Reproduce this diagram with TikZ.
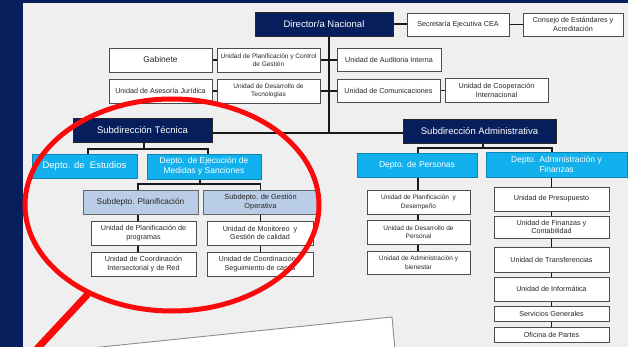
\documentclass[tikz,border=0pt]{standalone}
\usepackage{fontspec}
\setmainfont{Liberation Sans}
\usetikzlibrary{backgrounds}
\definecolor{navy}{RGB}{6,30,92}
\definecolor{bgray}{RGB}{239,239,240}
\definecolor{cyanb}{RGB}{18,176,236}
\definecolor{subb}{RGB}{186,205,230}
\definecolor{ringred}{RGB}{250,10,10}
\tikzset{
  box/.style={draw=black!70, line width=0.6pt, fill=white, text=black!85, align=center, inner sep=0.5pt, font=\fontsize{7.2}{8.8}\selectfont},
  sm/.style={font=\fontsize{6.5}{8.6}\selectfont},
  navybox/.style={box, fill=navy, draw=black!85, text=white, font=\fontsize{9.5}{11}\selectfont},
  cyanbox/.style={box, fill=cyanb, draw=cyanb!75!black, text=white, font=\fontsize{8.5}{10.4}\selectfont},
  subbox/.style={box, fill=subb, draw=black!60, text=black!85, font=\fontsize{7.4}{9.2}\selectfont},
  conn/.style={line width=1.2pt, black!90},
  ring/.style={draw=ringred, line width=5pt},
  pointer/.style={draw=ringred, line width=7pt}
}
\begin{document}
\begin{tikzpicture}[x=1pt,y=-1pt]
\useasboundingbox (0,0) rectangle (628,347);
\clip (0,0) rectangle (628,347);
% top row
\node[navybox, minimum width=138pt, minimum height=24pt] (dir) at (324,24) {Director/a Nacional};
\node[box, minimum width=102pt, minimum height=23pt] (sec) at (458,24.5) {Secretaría Ejecutiva CEA};
\node[box, minimum width=100pt, minimum height=23pt] (cons) at (573,24.5) {Consejo de Estándares y\\Acreditación};
% staff rows
\node[box, minimum width=103pt, minimum height=24pt, font=\fontsize{8.4}{10}\selectfont] (gab) at (160.5,60) {Gabinete};
\node[box, sm, minimum width=103pt, minimum height=24pt] (upcg) at (268.5,60) {Unidad de Planificación y Control\\de Gestión};
\node[box, minimum width=104pt, minimum height=23pt] (aud) at (389,59.5) {Unidad de Auditoria Interna};
\node[box, minimum width=103pt, minimum height=24pt] (ase) at (160.5,91) {Unidad de Asesoría Jurídica};
\node[box, sm, minimum width=103pt, minimum height=24pt] (udt) at (268.5,91) {Unidad de Desarrollo de\\Tecnologías};
\node[box, minimum width=103pt, minimum height=23pt] (com) at (388.5,90.5) {Unidad de Comunicaciones};
\node[box, minimum width=103pt, minimum height=24pt] (coop) at (496.5,90) {Unidad de Cooperación\\Internacional};
% subdirecciones
\node[navybox, minimum width=139pt, minimum height=24pt] (st) at (142.5,130) {Subdirección Técnica};
\node[navybox, minimum width=153pt, minimum height=24pt] (sa) at (479.5,131) {Subdirección Administrativa};
% tecnica
\node[cyanbox, minimum width=105pt, minimum height=24pt, font=\fontsize{9.5}{11}\selectfont] (de) at (84.5,166) {Depto. de\ \ Estudios};
\node[cyanbox, minimum width=114pt, minimum height=25pt] (dem) at (204,166.5) {Depto. de Ejecución de\\Medidas y Sanciones};
\node[subbox, minimum width=115pt, minimum height=24pt, font=\fontsize{8.3}{10}\selectfont] (sp) at (140.5,202) {Subdepto. Planificación};
\node[subbox, minimum width=115pt, minimum height=24pt] (sg) at (260.5,202) {Subdepto. de Gestión\\Operativa};
\node[box, minimum width=105pt, minimum height=24pt] (upp) at (143.5,233) {Unidad de Planificación de\\programas};
\node[box, minimum width=105pt, minimum height=24pt] (uci) at (143.5,264) {Unidad de Coordinación\\Intersectorial y de Red};
\node[box, minimum width=106pt, minimum height=24pt] (umg) at (260,233) {Unidad de Monitoreo\ \ y\\Gestión de calidad};
\node[box, minimum width=106pt, minimum height=24pt] (ucs) at (260,264) {Unidad de Coordinación y\\Seguimiento de casos};
% administrativa
\node[cyanbox, minimum width=120pt, minimum height=24pt] (dp) at (417,165) {Depto. de Personas};
\node[cyanbox, minimum width=141pt, minimum height=25pt] (daf) at (556.5,164.5) {Depto. Administración y\\Finanzas};
\node[box, sm, minimum width=103pt, minimum height=24pt] (upd) at (418.5,202) {Unidad de Planificación\ \ y\\Desempeño};
\node[box, sm, minimum width=103pt, minimum height=24pt] (udp) at (418.5,232) {Unidad de Desarrollo de\\Personal};
\node[box, sm, minimum width=103pt, minimum height=23pt] (uab) at (418.5,262.5) {Unidad de Administración y\\bienestar};
\node[box, minimum width=115pt, minimum height=24pt] (upr) at (551.5,199) {Unidad de Presupuesto};
\node[box, minimum width=115pt, minimum height=22pt] (ufc) at (551.5,227) {Unidad de Finanzas y\\Contabilidad};
\node[box, minimum width=115pt, minimum height=25pt] (utr) at (551.5,259.5) {Unidad de Transferencias};
\node[box, minimum width=115pt, minimum height=24pt] (uin) at (551.5,289) {Unidad de Informática};
\node[box, minimum width=115pt, minimum height=15pt] (usg) at (551.5,313.5) {Servicios Generales};
\node[box, minimum width=115pt, minimum height=15pt] (uop) at (551.5,334.5) {Oficina de Partes};
% connectors and background
\begin{pgfonlayer}{background}
\fill[navy] (0,0) rectangle (628,347);
\fill[bgray] (23,3) rectangle (628,347);
\fill[white] (100,347) -- (392,317) -- (395,350) -- (97,350) -- cycle;
\draw[black!45, line width=0.9pt] (96,347.5) -- (392,317) -- (395,350);
\coordinate (tb) at (329,133);
\draw[conn] (dir.south -| tb) -- (tb);
\draw[conn] (tb -| st.east) -- (tb -| sa.west);
\draw[conn] (dir.east) -- (dir.east -| sec.west);
\draw[conn] (sec.east) -- (sec.east -| cons.west);
\draw[conn] (gab.east) -- (gab.east -| upcg.west);
\draw[conn] (upcg.east) -- (upcg.east -| aud.west);
\draw[conn] (ase.east) -- (ase.east -| udt.west);
\draw[conn] (udt.east) -- (udt.east -| com.west);
\draw[conn] (com.east) -- (com.east -| coop.west);
\coordinate (b1) at (144,149);
\draw[conn] (st.south -| b1) -- (b1);
\draw[conn] ([xshift=3.5pt]de.north) |- (b1) -| ([xshift=4pt]dem.north);
\coordinate (b2) at (200,184);
\draw[conn] (dem.south -| b2) -- (b2);
\draw[conn] ([xshift=-2.5pt]sp.north) |- (b2) -| (sg.north);
\draw[conn] ([xshift=-2.5pt]sp.south) -- ([xshift=-2.5pt]sp.south |- uci.north);
\draw[conn] (sg.south) -- (sg.south |- ucs.north);
\coordinate (b3) at (483,148);
\draw[conn] (sa.south -| b3) -- (b3);
\draw[conn] ([xshift=1pt]dp.north) |- (b3) -| ([xshift=-4.5pt]daf.north);
\draw[conn] ([xshift=1pt]dp.south) -- ([xshift=1pt]dp.south |- uab.north);
\draw[conn] (upr.north |- daf.south) -- (upr.north |- uop.north);
\end{pgfonlayer}
% red highlight
\draw[ring] (172,205) ellipse [x radius=147, y radius=106];
\coordinate (pa) at (88,294);
\coordinate (pb) at (34,352);
\draw[pointer] (pa) -- (pb);
\end{tikzpicture}
\end{document}
